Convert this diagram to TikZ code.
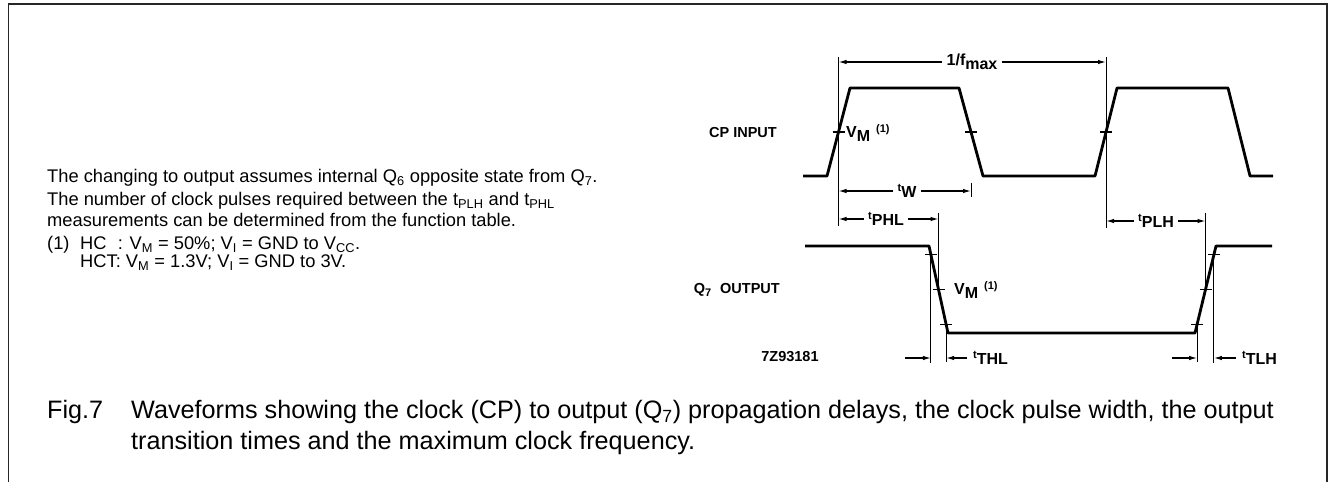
\documentclass[tikz,border=0pt]{standalone}
\usepackage{fontspec}
\setmainfont{Liberation Sans}
\usetikzlibrary{arrows.meta,calc}
\newcommand\tsub[1]{\raisebox{3pt}{\fontsize{11}{11}\selectfont t}\raisebox{-3.5pt}{#1}}
\newcommand\vmlab{V\raisebox{-4pt}{M}\hspace{6pt}\raisebox{5pt}{\fontsize{11}{11}\selectfont (1)}}
\begin{document}
\begin{tikzpicture}[x=1pt,y=-1pt,
  wave/.style={line width=2.8pt, line join=round},
  dimline/.style={line width=0.9pt},
  tickmark/.style={line width=1.1pt},
  arr/.style={line width=1.2pt, -{Latex[length=8pt,width=4.5pt]}},
  lbl/.style={font=\bfseries\fontsize{16}{16}\selectfont, inner sep=0pt},
  dlab/.style={font=\bfseries\fontsize{16}{16}\selectfont, inner sep=4pt},
  sig/.style={font=\bfseries\fontsize{14.5}{15}\selectfont, inner sep=0pt},
  txt/.style={font=\fontsize{18.3}{20}\selectfont, inner sep=0pt, anchor=west},
  figcap/.style={font=\fontsize{25.2}{29}\selectfont, inner sep=0pt, anchor=west},
  frameline/.style={line width=1.8pt, draw=black!85}
]
\useasboundingbox (0,0) rectangle (1330,482);
% frame
\coordinate (f1) at (8.5,482);
\coordinate (f2) at (8.5,4);
\coordinate (f3) at (1327,4);
\coordinate (f4) at (1327,482);
\draw[frameline] (f1) -- (f2) -- (f3) -- (f4);

% CP waveform
\coordinate (c0) at (803,176);
\coordinate (c1) at (827,176);
\coordinate (c2) at (850,88);
\coordinate (c3) at (959,88);
\coordinate (c4) at (983,176);
\coordinate (c5) at (1095,176);
\coordinate (c6) at (1117,88);
\coordinate (c7) at (1228,88);
\coordinate (c8) at (1250,176);
\coordinate (c9) at (1273,176);
\draw[wave] (c0) -- (c1) -- (c2) -- (c3) -- (c4) -- (c5) -- (c6) -- (c7) -- (c8) -- (c9);
\coordinate (m1) at ($(c1)!0.5!(c2)$);
\coordinate (m2) at ($(c3)!0.5!(c4)$);
\coordinate (m3) at ($(c5)!0.5!(c6)$);
\foreach \m in {m1,m2,m3} \draw[tickmark] ([xshift=-6pt]\m) -- ([xshift=6pt]\m);

% Q7 waveform
\coordinate (q0) at (805,246);
\coordinate (q1) at (929,246);
\coordinate (q2) at (948,333);
\coordinate (q3) at (1195,333);
\coordinate (q4) at (1216,246);
\coordinate (q5) at (1272,246);
\draw[wave] (q0) -- (q1) -- (q2) -- (q3) -- (q4) -- (q5);
\coordinate (fa) at ($(q1)!0.1!(q2)$);
\coordinate (fb) at ($(q1)!0.5!(q2)$);
\coordinate (fc) at ($(q1)!0.9!(q2)$);
\coordinate (ra) at ($(q3)!0.1!(q4)$);
\coordinate (rb) at ($(q3)!0.5!(q4)$);
\coordinate (rc) at ($(q3)!0.9!(q4)$);
\foreach \m in {fa,fb,fc,ra,rb,rc} \draw[tickmark] ([xshift=-6pt]\m) -- ([xshift=6pt]\m);

% vertical reference lines
\coordinate (v1t) at ($(m1)+(0,-75)$);
\coordinate (v1b) at ($(m1)+(0,94)$);
\draw[dimline] (v1t) -- (v1b);
\coordinate (v2t) at ($(m2)+(0,51)$);
\coordinate (v2b) at ($(m2)+(0,65)$);
\draw[dimline] (v2t) -- (v2b);
\coordinate (v3t) at ($(m3)+(0,-75)$);
\coordinate (v3b) at ($(m3)+(0,96)$);
\draw[dimline] (v3t) -- (v3b);
\coordinate (v4t) at ($(fb)+(0,-77)$);
\coordinate (v4b) at ($(fb)+(0,3)$);
\draw[dimline] (v4t) -- (v4b);
\coordinate (v5t) at ($(rb)+(0,-77)$);
\coordinate (v5b) at ($(rb)+(0,3)$);
\draw[dimline] (v5t) -- (v5b);
\coordinate (v6b) at ($(fa)+(0,108)$);
\draw[dimline] (fa) -- (v6b);
\coordinate (v7b) at ($(fc)+(0,38)$);
\draw[dimline] (fc) -- (v7b);
\coordinate (v8b) at ($(ra)+(0,38)$);
\draw[dimline] (ra) -- (v8b);
\coordinate (v9b) at ($(rc)+(0,108)$);
\draw[dimline] (rc) -- (v9b);

% 1/fmax
\node[dlab] (lf) at (972,62) {1/f\raisebox{-3.5pt}{max}};
\coordinate (lfa) at (838.5,62);
\coordinate (lfb) at (1106,62);
\draw[arr] (lf.west) -- (lfa);
\draw[arr] (lf.east) -- (lfb);

% tW
\node[dlab] (lw) at (907,191) {\tsub{W}};
\coordinate (lwa) at (838.5,191);
\coordinate (lwb) at (971,191);
\draw[arr] (lw.west) -- (lwa);
\draw[arr] (lw.east) -- (lwb);

% tPHL
\node[dlab] (lphl) at (886,219) {\tsub{PHL}};
\coordinate (lpa) at (838.5,219);
\coordinate (lpb) at (938.5,219);
\draw[arr] (lphl.west) -- (lpa);
\draw[arr] (lphl.east) -- (lpb);

% tPLH
\node[dlab] (lplh) at (1156,221) {\tsub{PLH}};
\coordinate (lqa) at (1106,221);
\coordinate (lqb) at (1205.5,221);
\draw[arr] (lplh.west) -- (lqa);
\draw[arr] (lplh.east) -- (lqb);

% tTHL
\coordinate (ta1) at (905,358);
\coordinate (ta2) at (fa|-ta1);
\draw[arr] (ta1) -- (ta2);
\node[lbl, anchor=west] (tthl) at (973,358) {\tsub{THL}};
\coordinate (ta3) at (fc|-ta1);
\coordinate (ta4) at ($(tthl.west)+(-6,0)$);
\draw[arr] (ta4) -- (ta3);

% tTLH
\coordinate (tb1) at (1172,358);
\coordinate (tb2) at (ra|-tb1);
\draw[arr] (tb1) -- (tb2);
\node[lbl, anchor=west] (ttlh) at (1242,358) {\tsub{TLH}};
\coordinate (tb3) at (rc|-tb1);
\coordinate (tb4) at ($(ttlh.west)+(-6,0)$);
\draw[arr] (tb4) -- (tb3);

% V_M labels
\node[lbl, anchor=west] (vm1) at (846,133) {\vmlab};
\node[lbl, anchor=west] (vm2) at (954,290) {\vmlab};

% signal names
\node[sig, anchor=east] (cpin) at (777,133) {CP INPUT};
\node[sig, anchor=east] (q7out) at (780,290) {Q\raisebox{-3.5pt}{\fontsize{11}{11}\selectfont 7}\hspace{9pt}OUTPUT};
\node[sig, anchor=center] (code) at (790,357) {7Z93181};

% notes
\node[txt] (n1) at (47,178) {The changing to output assumes internal Q\textsubscript{6} opposite state from Q\textsubscript{7}.};
\node[txt] (n2) at (47,201) {The number of clock pulses required between the t\textsubscript{PLH} and t\textsubscript{PHL}};
\node[txt] (n3) at (47,220) {measurements can be determined from the function table.};
\node[txt] (n4a) at (47,245) {(1)};
\node[txt] (n4) at (80,245) {HC\hphantom{T}: V\textsubscript{M} = 50\%; V\textsubscript{I} = GND to V\textsubscript{CC}.};
\node[txt] (n5) at (80,263) {HCT: V\textsubscript{M} = 1.3V; V\textsubscript{I} = GND to 3V.};

% caption
\node[figcap] (fig) at (47,412) {Fig.7};
\node[figcap] (cap1) at (131,412) {Waveforms showing the clock (CP) to output (Q\textsubscript{7}) propagation delays, the clock pulse width, the output};
\node[figcap] (cap2) at (131,443) {transition times and the maximum clock frequency.};
\end{tikzpicture}
\end{document}
